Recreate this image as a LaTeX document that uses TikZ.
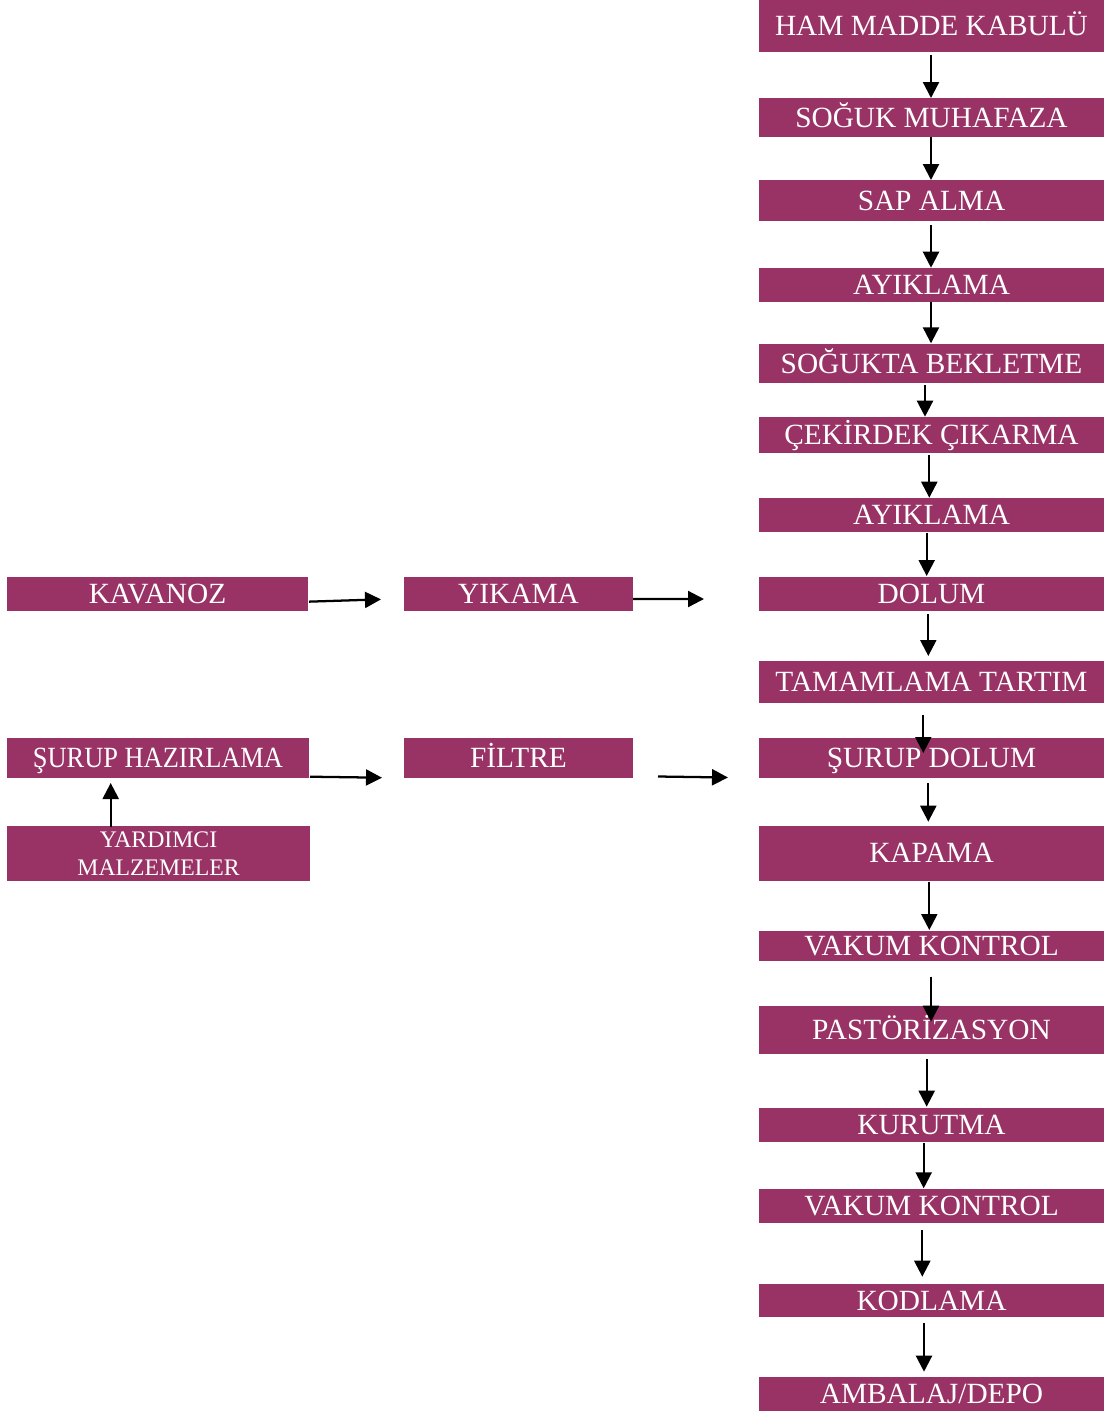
\documentclass[tikz,border=0pt]{standalone}
\usepackage{fontspec}
\setmainfont{Liberation Serif}
\usepackage{graphicx}
\usetikzlibrary{arrows.meta}
\definecolor{plum}{RGB}{153,51,102}
\def\pu{0.75pt}
\newcommand\varr[5]{\draw[arr] ([xshift=#3*\pu,yshift=#4*\pu]#1.south) -- ([xshift=#3*\pu,yshift=#5*\pu]#2.north);}
\begin{document}
\begin{tikzpicture}[x=0.75pt,y=-0.75pt,
  box/.style={fill=plum, text=white, inner sep=0pt, outer sep=0pt,
    font=\fontsize{22}{26}\selectfont, text height=14.5pt, text depth=0pt},
  rbox/.style={box, minimum width=345*\pu},
  arr/.style={line width=1.7pt, -{Triangle[length=12pt,width=12pt]}}]
\useasboundingbox (0,0) rectangle (1109,1411);
% right column
\node[rbox, minimum height=51.7*\pu] (r1) at (931.5,25.85) {HAM MADDE KABULÜ};
\node[rbox, minimum height=38.4*\pu] (r2) at (931.5,117.5) {SOĞUK MUHAFAZA};
\node[rbox, minimum height=41*\pu] (r3) at (931.5,200.5) {SAP ALMA};
\node[rbox, minimum height=34*\pu] (r4) at (931.5,284.7) {AYIKLAMA};
\node[rbox, minimum height=38.7*\pu] (r5) at (931.5,363.35) {SOĞUKTA BEKLETME};
\node[rbox, minimum height=36*\pu] (r6) at (931.5,435.3) {ÇEKİRDEK ÇIKARMA};
\node[rbox, minimum height=33.4*\pu] (r7) at (931.5,515) {AYIKLAMA};
\node[rbox, minimum height=34*\pu] (r8) at (931.5,593.7) {DOLUM};
\node[rbox, minimum height=42.3*\pu] (r9) at (931.5,682.15) {TAMAMLAMA TARTIM};
\node[rbox, minimum height=39.4*\pu] (r10) at (931.5,758) {ŞURUP DOLUM};
\node[rbox, minimum height=55*\pu] (r11) at (931.5,853.2) {KAPAMA};
\node[rbox, minimum height=30*\pu] (r12) at (931.5,946) {VAKUM KONTROL};
\node[rbox, minimum height=48*\pu] (r13) at (931.5,1030) {PASTÖRİZASYON};
\node[rbox, minimum height=34*\pu] (r14) at (931.5,1124.7) {KURUTMA};
\node[rbox, minimum height=34.3*\pu] (r15) at (931.5,1206.15) {VAKUM KONTROL};
\node[rbox, minimum height=32.7*\pu] (r16) at (931.5,1300.35) {KODLAMA};
\node[rbox, minimum height=33.7*\pu] (r17) at (931.5,1394.15) {AMBALAJ/DEPO};
% left part
\node[box, minimum width=301*\pu, minimum height=33.7*\pu] (kav) at (157.5,593.85) {KAVANOZ};
\node[box, minimum width=229*\pu, minimum height=33.7*\pu] (yik) at (518.5,593.85) {YIKAMA};
\node[box, minimum width=302*\pu, minimum height=39.4*\pu] (sh) at (158,758) {\scalebox{0.9}[1]{ŞURUP HAZIRLAMA}};
\node[box, minimum width=229*\pu, minimum height=39.4*\pu] (fil) at (518.5,758) {FİLTRE};
\node[box, minimum width=303*\pu, minimum height=54.7*\pu, align=center,
  font=\fontsize{17.8}{21}\selectfont, text height=32.8pt, text depth=0pt] (ym) at (158.5,853.35) {YARDIMCI\\MALZEMELER};
\coordinate (yend) at (704,599);
\coordinate (fstart) at (658,776.5);
\coordinate (fend) at (728,777.5);
% vertical arrows
\varr{r1}{r2}{-0.5}{-3.3}{0.3}
\varr{r2}{r3}{-0.5}{-0.3}{0}
\varr{r3}{r4}{-0.5}{-4}{0}
\varr{r4}{r5}{-0.5}{0}{0.7}
\varr{r5}{r6}{-6.5}{-2.3}{0.6}
\varr{r6}{r7}{-2.2}{-1.7}{0.6}
\varr{r7}{r8}{-4.8}{-1.3}{0.7}
\varr{r8}{r9}{-3.2}{-3.3}{5}
\varr{r9}{r10}{-8.2}{-11.7}{-14.7}
\varr{r10}{r11}{-3.2}{-5.3}{4}
\varr{r11}{r12}{-2.2}{-1}{1}
\varr{r12}{r13}{-0.5}{-15.7}{-15.7}
\varr{r13}{r14}{-4.8}{-5.3}{1}
\varr{r14}{r15}{-7.8}{-1.6}{0.7}
\varr{r15}{r16}{-9.2}{-6.7}{7.3}
\varr{r16}{r17}{-7.5}{-6.3}{5.6}
% left arrows
\draw[arr] ([xshift=1*\pu,yshift=-7.8*\pu]kav.east) -- ([xshift=-23*\pu,yshift=-5.5*\pu]yik.west);
\draw[arr] ([yshift=-5.2*\pu]yik.east) -- (yend);
\draw[arr] ([xshift=1*\pu,yshift=-18.7*\pu]sh.east) -- ([xshift=-22*\pu,yshift=-19.7*\pu]fil.west);
\draw[arr] (fstart) -- (fend);
\draw[arr] ([xshift=-47.8*\pu,yshift=-0.7*\pu]ym.north) -- ([xshift=-47.3*\pu,yshift=-5.3*\pu]sh.south);
\end{tikzpicture}
\end{document}
